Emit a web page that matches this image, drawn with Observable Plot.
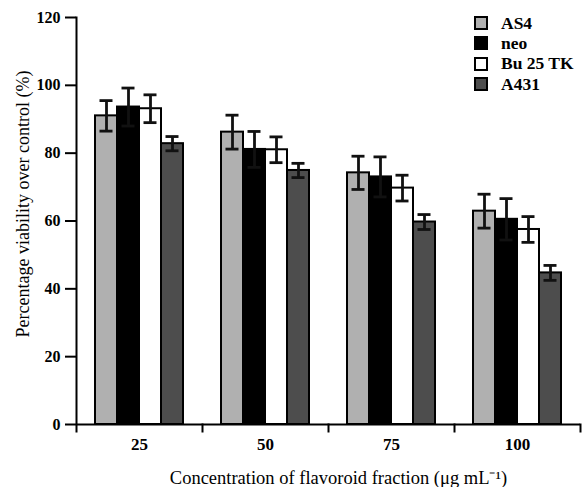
<!DOCTYPE html>
<html><head><meta charset="utf-8">
<script src="https://cdn.jsdelivr.net/npm/d3@7"></script>
<script src="https://cdn.jsdelivr.net/npm/@observablehq/plot@0.6"></script>
<style>
body{margin:0;background:#fff;}
#wrap{position:relative;width:582px;height:487px;font-family:"Liberation Serif",serif;}
#wrap svg text{font-family:"Liberation Serif",serif;}
#legend{position:absolute;left:474px;top:13px;}
.item{display:flex;align-items:center;height:20.3px;font-size:17.5px;font-weight:bold;color:#000;}
.sw{width:10px;height:10px;border:2px solid #000;margin-right:13px;}
</style></head><body>
<div id="wrap"><div id="legend"></div></div>
<script>
const concentrations = ["25", "50", "75", "100"];
const series = ["AS4", "neo", "Bu 25 TK", "A431"];
const colors = ["#b0b0b0", "#000000", "#ffffff", "#4d4d4d"];
const as4Mean = [91.0, 86.2, 74.2, 62.9];
const as4Err = [4.5, 5.0, 4.9, 5.0];
const neoMean = [93.6, 81.1, 73.0, 60.5];
const neoErr = [5.6, 5.3, 5.9, 6.1];
const buMean = [93.1, 81.0, 69.7, 57.5];
const buErr = [4.1, 3.8, 3.8, 3.8];
const a431Mean = [82.8, 74.9, 59.7, 44.7];
const a431Err = [2.1, 2.1, 2.2, 2.2];
const yTicks = [0, 20, 40, 60, 80, 100, 120];
const xLabel = "Concentration of flavoroid fraction (\u03bcg mL\u207b\u00b9)";
const yLabel = "Percentage viability over control (%)";

const allMeans = [as4Mean, neoMean, buMean, a431Mean];
const allErrs = [as4Err, neoErr, buErr, a431Err];
const rows = [];
concentrations.forEach((c, i) => {
  series.forEach((s, j) => {
    rows.push({conc: c, series: s, value: allMeans[j][i], err: allErrs[j][i]});
  });
});

const font = "Liberation Serif";
const chart = Plot.plot({
  width: 582, height: 487,
  marginLeft: 75, marginRight: 2, marginTop: 17, marginBottom: 63,
  style: {fontFamily: font, fontSize: "15px", color: "#000", background: "#fff"},
  fx: {domain: concentrations, padding: 0},
  x: {domain: series, paddingInner: 0, paddingOuter: 0.76, axis: null},
  y: {domain: [0, 120]},
  color: {domain: series, range: colors},
  marks: [
    Plot.barY(rows, {fx: "conc", x: "series", y: "value", fill: "series", stroke: "#000", strokeWidth: 2}),
    Plot.ruleX(rows, {fx: "conc", x: "series", y1: d => d.value - d.err, y2: d => d.value + d.err, stroke: "#111", strokeWidth: 2.8}),
    Plot.tickY(rows, {fx: "conc", x: "series", y: d => d.value + d.err, insetLeft: 4.5, insetRight: 4.5, stroke: "#111", strokeWidth: 2.8}),
    Plot.tickY(rows, {fx: "conc", x: "series", y: d => d.value - d.err, insetLeft: 4.5, insetRight: 4.5, stroke: "#111", strokeWidth: 2.8}),
    Plot.ruleY([0], {stroke: "#000", strokeWidth: 2}),
    Plot.frame({anchor: "right", insetTop: 407, insetBottom: -7, stroke: "#000", strokeWidth: 2}),
    Plot.frame({anchor: "left", fx: [concentrations[0]], insetBottom: -7, stroke: "#000", strokeWidth: 2}),
    Plot.axisY({ticks: yTicks, tickSize: 11, tickPadding: 5, fontWeight: "bold", fontSize: 16, fontFamily: font,
      strokeWidth: 2, label: null}),
    Plot.axisFx({anchor: "bottom", tickSize: 0, tickPadding: 13, fontWeight: "bold", fontSize: 17, fontFamily: font,
      label: null}),
    Plot.text([yLabel], {fx: [concentrations[0]], frameAnchor: "left", rotate: -90, dx: -53, dy: -17,
      textAnchor: "middle", fontSize: 18, fontFamily: font, fill: "#000"}),
    Plot.text([xLabel], {fx: [concentrations[1]], frameAnchor: "bottom-right", dx: 10, dy: 59,
      textAnchor: "middle", lineAnchor: "bottom", fontSize: 18.5, fontFamily: font, fill: "#000"})
  ]
});
document.getElementById("wrap").prepend(chart);

const legend = document.getElementById("legend");
series.forEach((s, j) => {
  const item = document.createElement("div");
  item.className = "item";
  const sw = document.createElement("div");
  sw.className = "sw";
  sw.style.background = colors[j];
  item.appendChild(sw);
  item.appendChild(document.createTextNode(s));
  legend.appendChild(item);
});
</script>
</body></html>
